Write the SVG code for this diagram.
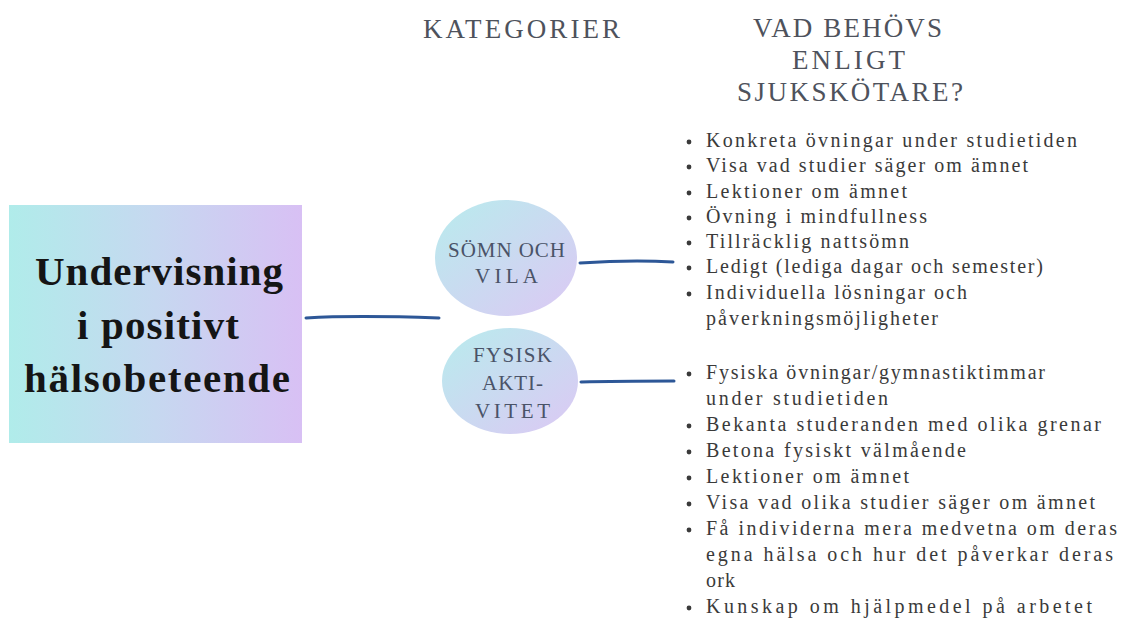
<svg xmlns="http://www.w3.org/2000/svg" width="1121" height="619" viewBox="0 0 1121 619">
<defs>
<linearGradient id="gBox" x1="0" y1="0" x2="1" y2="0">
<stop offset="0" stop-color="#b0ecea"/>
<stop offset="0.5" stop-color="#c6d8f0"/>
<stop offset="1" stop-color="#d8c0f4"/>
</linearGradient>
<linearGradient id="gEll" x1="0" y1="0" x2="1" y2="1">
<stop offset="0" stop-color="#b8eced"/>
<stop offset="1" stop-color="#dcc8f4"/>
</linearGradient>
</defs>
<style>
.head{font-family:"Liberation Serif",serif;font-size:27px;fill:#4e525c}
.main{font-family:"Liberation Serif",serif;font-size:41px;font-weight:bold;fill:#151515}
.cat{font-family:"Liberation Serif",serif;font-size:21px;fill:#4a5368}
.item{font-family:"Liberation Serif",serif;font-size:20px;fill:#3a3a3a}
.conn{fill:none;stroke:#2d5797;stroke-width:3;stroke-linecap:round}
.dot{fill:#3a3a3a}
</style>
<rect width="1121" height="619" fill="#ffffff"/>
<g id="headers">
<text class="head" x="423" y="38" textLength="197" lengthAdjust="spacing">KATEGORIER</text>
<text class="head" x="753" y="37" textLength="189" lengthAdjust="spacing">VAD BEHÖVS</text>
<text class="head" x="792" y="69" textLength="113" lengthAdjust="spacing">ENLIGT</text>
<text class="head" x="737" y="101" textLength="226" lengthAdjust="spacing">SJUKSKÖTARE?</text>
</g>
<g id="main">
<rect x="9" y="205" width="293" height="238" fill="url(#gBox)"/>
<text class="main" x="35" y="285" textLength="248" lengthAdjust="spacing">Undervisning</text>
<text class="main" x="77" y="339" textLength="162" lengthAdjust="spacing">i positivt</text>
<text class="main" x="24" y="392" textLength="266" lengthAdjust="spacing">hälsobeteende</text>
</g>
<g id="somn">
<ellipse cx="506" cy="258" rx="71" ry="58" fill="url(#gEll)"/>
<text class="cat" x="448" y="257" textLength="117" lengthAdjust="spacing">SÖMN OCH</text>
<text class="cat" x="475" y="283" textLength="63" lengthAdjust="spacing">VILA</text>
</g>
<g id="fysisk">
<ellipse cx="510" cy="381" rx="68" ry="53" fill="url(#gEll)"/>
<text class="cat" x="473" y="362" textLength="79" lengthAdjust="spacing">FYSISK</text>
<text class="cat" x="482" y="390" textLength="61" lengthAdjust="spacing">AKTI-</text>
<text class="cat" x="475" y="418" textLength="75" lengthAdjust="spacing">VITET</text>
</g>
<g id="connectors">
<path class="conn" d="M306 318 C340 316 380 316 439 318"/>
<path class="conn" d="M580 263 C610 261 640 260 673 262"/>
<path class="conn" d="M581 382 C615 381 645 381 674 381"/>
</g>
<g id="list1">
<text class="item" x="706" y="147" textLength="371" lengthAdjust="spacing">Konkreta övningar under studietiden</text>
<text class="item" x="706" y="172" textLength="322" lengthAdjust="spacing">Visa vad studier säger om ämnet</text>
<text class="item" x="706" y="198" textLength="201" lengthAdjust="spacing">Lektioner om ämnet</text>
<text class="item" x="706" y="223" textLength="221" lengthAdjust="spacing">Övning i mindfullness</text>
<text class="item" x="706" y="248" textLength="203" lengthAdjust="spacing">Tillräcklig nattsömn</text>
<text class="item" x="706" y="273" textLength="337" lengthAdjust="spacing">Ledigt (lediga dagar och semester)</text>
<text class="item" x="706" y="299" textLength="261" lengthAdjust="spacing">Individuella lösningar och</text>
<text class="item" x="706" y="325" textLength="232" lengthAdjust="spacing">påverkningsmöjligheter</text>
<circle class="dot" cx="689" cy="142" r="2.4"/><circle class="dot" cx="689" cy="167" r="2.4"/><circle class="dot" cx="689" cy="193" r="2.4"/><circle class="dot" cx="689" cy="218" r="2.4"/><circle class="dot" cx="689" cy="243" r="2.4"/><circle class="dot" cx="689" cy="268" r="2.4"/><circle class="dot" cx="689" cy="294" r="2.4"/>
</g>
<g id="list2">
<text class="item" x="706" y="379" textLength="339" lengthAdjust="spacing">Fysiska övningar/gymnastiktimmar</text>
<text class="item" x="706" y="405" textLength="182" lengthAdjust="spacing">under studietiden</text>
<text class="item" x="706" y="431" textLength="395" lengthAdjust="spacing">Bekanta studeranden med olika grenar</text>
<text class="item" x="706" y="457" textLength="260" lengthAdjust="spacing">Betona fysiskt välmående</text>
<text class="item" x="706" y="483" textLength="203" lengthAdjust="spacing">Lektioner om ämnet</text>
<text class="item" x="706" y="509" textLength="389" lengthAdjust="spacing">Visa vad olika studier säger om ämnet</text>
<text class="item" x="706" y="535" textLength="411" lengthAdjust="spacing">Få individerna mera medvetna om deras</text>
<text class="item" x="706" y="561" textLength="407" lengthAdjust="spacing">egna hälsa och hur det påverkar deras</text>
<text class="item" x="706" y="587" textLength="29" lengthAdjust="spacing">ork</text>
<text class="item" x="706" y="613" textLength="386" lengthAdjust="spacing">Kunskap om hjälpmedel på arbetet</text>
<circle class="dot" cx="689" cy="374" r="2.4"/><circle class="dot" cx="689" cy="426" r="2.4"/><circle class="dot" cx="689" cy="452" r="2.4"/><circle class="dot" cx="689" cy="478" r="2.4"/><circle class="dot" cx="689" cy="504" r="2.4"/><circle class="dot" cx="689" cy="530" r="2.4"/><circle class="dot" cx="689" cy="608" r="2.4"/>
</g>
</svg>
